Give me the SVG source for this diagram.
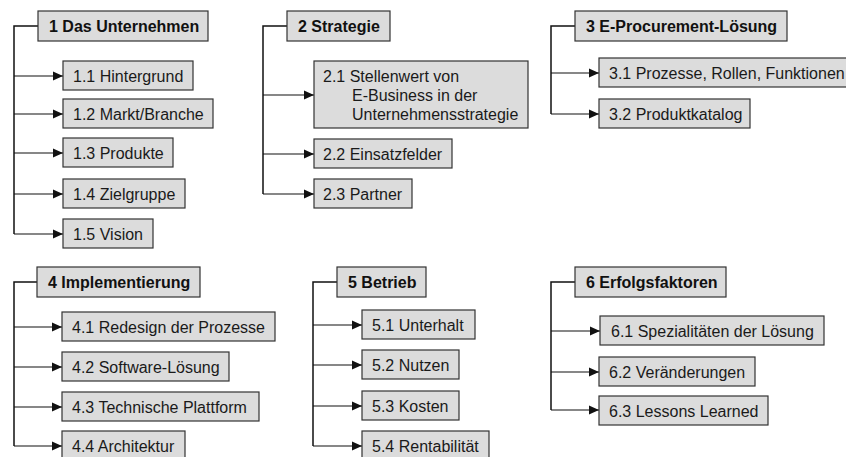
<svg xmlns="http://www.w3.org/2000/svg" width="846" height="457" viewBox="0 0 846 457">
  <style>
    .box { fill: #dcdcdc; stroke: #333333; stroke-width: 1.2; }
    .lbl { font-family: "Liberation Sans", Arial, sans-serif; font-size: 16px; fill: #1a1a1a; }
    .ttl { font-family: "Liberation Sans", Arial, sans-serif; font-size: 16px; font-weight: bold; fill: #111111; }
    .trunk { fill: none; stroke: #111111; stroke-width: 1.5; }
    .branch { fill: none; stroke: #111111; stroke-width: 1.1; marker-end: url(#arrow); }
  </style>
  <defs>
    <marker id="arrow" markerUnits="userSpaceOnUse" markerWidth="10" markerHeight="10" refX="10" refY="5" orient="auto">
      <path d="M0,0.5 L10,5 L0,9.5 Z" fill="#111111"/>
    </marker>
  </defs>
  <rect width="846" height="457" fill="#ffffff"/>

  <!-- connectors -->
  <g id="connectors">
    <!-- section 1 -->
    <path class="trunk" d="M38,26 H14 V234"/>
    <path class="branch" d="M14,76 H63"/>
    <path class="branch" d="M14,114 H63"/>
    <path class="branch" d="M14,153 H63"/>
    <path class="branch" d="M14,194 H63"/>
    <path class="branch" d="M14,234 H63"/>
    <!-- section 2 -->
    <path class="trunk" d="M287,26 H263 V194"/>
    <path class="branch" d="M263,95 H314"/>
    <path class="branch" d="M263,154 H314"/>
    <path class="branch" d="M263,194 H314"/>
    <!-- section 3 -->
    <path class="trunk" d="M575,26 H551 V114"/>
    <path class="branch" d="M551,73 H599"/>
    <path class="branch" d="M551,114 H599"/>
    <!-- section 4 -->
    <path class="trunk" d="M37,282 H14 V446"/>
    <path class="branch" d="M14,327 H62"/>
    <path class="branch" d="M14,367 H62"/>
    <path class="branch" d="M14,407 H62"/>
    <path class="branch" d="M14,446 H62"/>
    <!-- section 5 -->
    <path class="trunk" d="M337,282 H313 V446"/>
    <path class="branch" d="M313,325 H362"/>
    <path class="branch" d="M313,365 H362"/>
    <path class="branch" d="M313,406 H362"/>
    <path class="branch" d="M313,446 H362"/>
    <!-- section 6 -->
    <path class="trunk" d="M575,282 H551 V410"/>
    <path class="branch" d="M551,331 H600"/>
    <path class="branch" d="M551,372 H599"/>
    <path class="branch" d="M551,410 H599"/>
  </g>

  <!-- section 1 -->
  <g id="n1"><rect class="box" x="38" y="11" width="170" height="30"/><text class="ttl" x="49" y="32">1 Das Unternehmen</text></g>
  <g id="n1-1"><rect class="box" x="63" y="61" width="130" height="29"/><text class="lbl" x="73" y="81.5">1.1 Hintergrund</text></g>
  <g id="n1-2"><rect class="box" x="63" y="99" width="150" height="29"/><text class="lbl" x="73" y="119.5">1.2 Markt/Branche</text></g>
  <g id="n1-3"><rect class="box" x="63" y="138" width="110" height="29"/><text class="lbl" x="73" y="158.5">1.3 Produkte</text></g>
  <g id="n1-4"><rect class="box" x="63" y="179" width="122" height="29"/><text class="lbl" x="73" y="199.5">1.4 Zielgruppe</text></g>
  <g id="n1-5"><rect class="box" x="63" y="219" width="90" height="29"/><text class="lbl" x="73" y="239.5">1.5 Vision</text></g>

  <!-- section 2 -->
  <g id="n2"><rect class="box" x="287" y="11" width="103" height="30"/><text class="ttl" x="298" y="32">2 Strategie</text></g>
  <g id="n2-1"><rect class="box" x="314" y="61" width="214" height="67"/>
    <text class="lbl" x="323" y="82">2.1 Stellenwert von</text>
    <text class="lbl" x="352" y="101">E-Business in der</text>
    <text class="lbl" x="352" y="120">Unternehmensstrategie</text>
  </g>
  <g id="n2-2"><rect class="box" x="314" y="139" width="138" height="29"/><text class="lbl" x="323" y="159.5">2.2 Einsatzfelder</text></g>
  <g id="n2-3"><rect class="box" x="314" y="179" width="98" height="29"/><text class="lbl" x="323" y="199.5">2.3 Partner</text></g>

  <!-- section 3 -->
  <g id="n3"><rect class="box" x="575" y="11" width="212" height="30"/><text class="ttl" x="586" y="32">3 E-Procurement-Lösung</text></g>
  <g id="n3-1"><rect class="box" x="599" y="58" width="252" height="29"/><text class="lbl" x="609" y="78.5">3.1 Prozesse, Rollen, Funktionen</text></g>
  <g id="n3-2"><rect class="box" x="599" y="99" width="151" height="29"/><text class="lbl" x="609" y="119.5">3.2 Produktkatalog</text></g>

  <!-- section 4 -->
  <g id="n4"><rect class="box" x="37" y="267" width="163" height="30"/><text class="ttl" x="48" y="288">4 Implementierung</text></g>
  <g id="n4-1"><rect class="box" x="62" y="312" width="213" height="29"/><text class="lbl" x="72" y="332.5">4.1 Redesign der Prozesse</text></g>
  <g id="n4-2"><rect class="box" x="62" y="352" width="167" height="29"/><text class="lbl" x="72" y="372.5">4.2 Software-Lösung</text></g>
  <g id="n4-3"><rect class="box" x="62" y="392" width="197" height="29"/><text class="lbl" x="72" y="412.5">4.3 Technische Plattform</text></g>
  <g id="n4-4"><rect class="box" x="62" y="431" width="123" height="29"/><text class="lbl" x="72" y="451.5">4.4 Architektur</text></g>

  <!-- section 5 -->
  <g id="n5"><rect class="box" x="337" y="267" width="89" height="30"/><text class="ttl" x="348" y="288">5 Betrieb</text></g>
  <g id="n5-1"><rect class="box" x="362" y="310" width="113" height="29"/><text class="lbl" x="372" y="330.5">5.1 Unterhalt</text></g>
  <g id="n5-2"><rect class="box" x="362" y="350" width="97" height="29"/><text class="lbl" x="372" y="370.5">5.2 Nutzen</text></g>
  <g id="n5-3"><rect class="box" x="362" y="391" width="97" height="29"/><text class="lbl" x="372" y="411.5">5.3 Kosten</text></g>
  <g id="n5-4"><rect class="box" x="362" y="431" width="127" height="29"/><text class="lbl" x="372" y="451.5">5.4 Rentabilität</text></g>

  <!-- section 6 -->
  <g id="n6"><rect class="box" x="575" y="267" width="151" height="30"/><text class="ttl" x="586" y="288">6 Erfolgsfaktoren</text></g>
  <g id="n6-1"><rect class="box" x="600" y="316" width="224" height="29"/><text class="lbl" x="611" y="336.5">6.1 Spezialitäten der Lösung</text></g>
  <g id="n6-2"><rect class="box" x="599" y="357" width="156" height="29"/><text class="lbl" x="609" y="377.5">6.2 Veränderungen</text></g>
  <g id="n6-3"><rect class="box" x="599" y="396" width="169" height="29"/><text class="lbl" x="609" y="416.5">6.3 Lessons Learned</text></g>
</svg>
